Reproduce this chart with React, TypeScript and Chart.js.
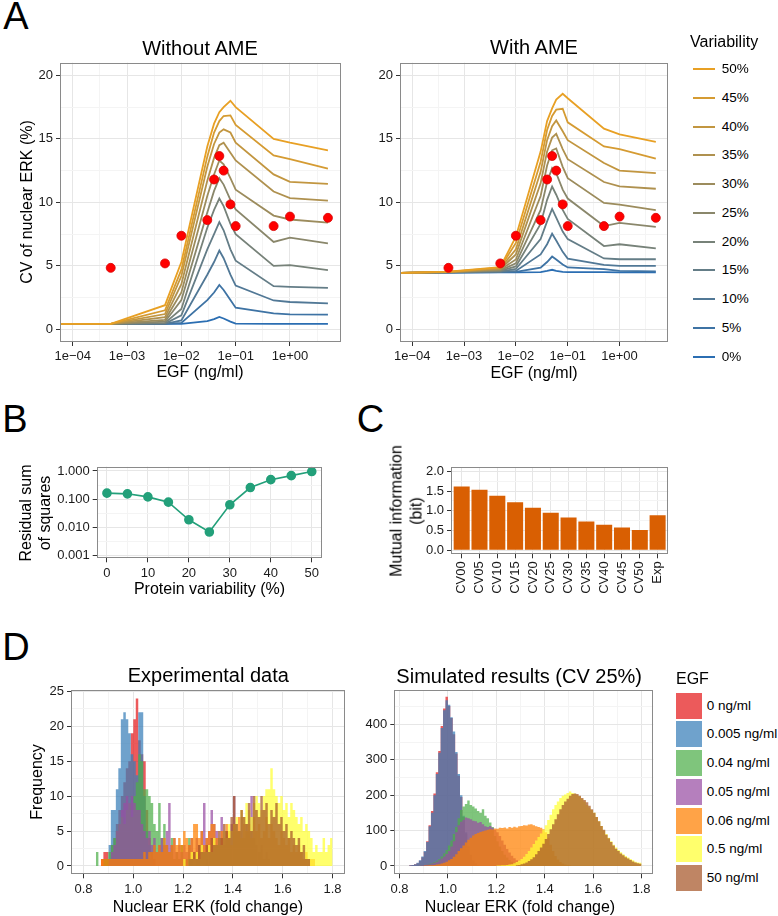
import React, { useEffect, useRef } from "react";
import { Chart, registerables } from "chart.js";

Chart.register(...registerables);

const FONT = '"Liberation Sans", Arial, Helvetica, sans-serif';

// ---------------- Panel A data ----------------
const egfDose = [6e-5, 5e-4, 5e-3, 1e-2, 0.03, 0.04, 0.05, 0.06, 0.08, 0.1, 0.5, 1, 5];
const variabilityLabels = ["0%", "5%", "10%", "15%", "20%", "25%", "30%", "35%", "40%", "45%", "50%"];

// Without AME
const cvNoAme00 = [0.42, 0.42, 0.42, 0.42, 0.65, 0.8, 0.97, 0.85, 0.6, 0.45, 0.42, 0.42, 0.42];
const cvNoAme05 = [0.42, 0.42, 0.42, 0.5, 2.3, 2.9, 3.5, 3.1, 2.3, 1.7, 1.25, 1.18, 1.15];
const cvNoAme10 = [0.42, 0.42, 0.43, 0.7, 4.3, 5.3, 6.2, 5.6, 4.3, 3.44, 2.27, 2.15, 2.04];
const cvNoAme15 = [0.42, 0.42, 0.45, 1.1, 6.3, 7.5, 8.45, 7.8, 6.3, 5.4, 3.4, 3.35, 3.26];
const cvNoAme20 = [0.42, 0.42, 0.5, 1.6, 8.0, 9.4, 10.3, 9.7, 8.3, 7.5, 5.0, 5.05, 4.66];
const cvNoAme25 = [0.42, 0.42, 0.6, 2.3, 9.2, 10.9, 11.9, 11.4, 10.2, 9.45, 6.88, 7.22, 6.77];
const cvNoAme30 = [0.42, 0.42, 0.75, 2.9, 10.5, 12.2, 13.3, 13.0, 11.9, 11.0, 8.96, 8.65, 8.4];
const cvNoAme35 = [0.42, 0.42, 0.95, 3.56, 11.7, 13.5, 14.5, 14.7, 13.9, 13.3, 10.85, 10.34, 10.13];
const cvNoAme40 = [0.42, 0.42, 1.2, 4.2, 12.8, 14.6, 15.5, 15.75, 15.5, 14.7, 12.2, 11.62, 11.46];
const cvNoAme45 = [0.42, 0.42, 1.5, 4.7, 13.6, 15.5, 16.4, 16.8, 16.85, 16.1, 13.7, 13.4, 12.65];
const cvNoAme50 = [0.42, 0.42, 1.9, 5.3, 14.4, 16.2, 17.1, 17.5, 18.0, 17.5, 15.0, 14.7, 14.1];

// With AME
const cvAme00 = [4.45, 4.47, 4.48, 4.48, 4.5, 4.6, 4.69, 4.6, 4.52, 4.5, 4.5, 4.48, 4.48];
const cvAme05 = [4.45, 4.47, 4.5, 4.52, 4.85, 5.3, 5.73, 5.5, 5.1, 4.87, 4.74, 4.6, 4.56];
const cvAme10 = [4.45, 4.48, 4.52, 4.6, 5.9, 6.7, 7.53, 7.0, 6.1, 5.57, 5.08, 5.0, 5.0];
const cvAme15 = [4.45, 4.48, 4.55, 4.75, 7.1, 8.5, 9.48, 8.8, 7.7, 7.1, 5.58, 5.52, 5.52];
const cvAme20 = [4.45, 4.49, 4.6, 4.95, 8.3, 10.2, 11.25, 10.6, 9.4, 8.7, 6.56, 6.7, 6.38];
const cvAme25 = [4.45, 4.5, 4.65, 5.2, 9.4, 11.6, 12.7, 12.3, 11.0, 10.3, 8.13, 8.39, 8.07];
const cvAme30 = [4.45, 4.5, 4.7, 5.5, 10.5, 12.9, 14.1, 14.25, 12.8, 11.9, 9.95, 9.82, 9.38];
const cvAme35 = [4.45, 4.51, 4.75, 5.9, 11.5, 14.0, 15.1, 15.4, 14.2, 13.4, 11.6, 11.25, 11.07];
const cvAme40 = [4.45, 4.52, 4.8, 6.3, 12.4, 14.9, 16.0, 16.45, 15.6, 14.9, 13.1, 12.5, 12.3];
const cvAme45 = [4.45, 4.53, 4.85, 6.8, 13.2, 15.7, 16.8, 17.3, 17.37, 16.3, 14.4, 14.2, 13.45];
const cvAme50 = [4.45, 4.55, 4.9, 7.3, 14.0, 16.4, 17.4, 18.1, 18.55, 18.2, 15.8, 15.35, 14.77];

const cvNoAmeSeries = [cvNoAme00, cvNoAme05, cvNoAme10, cvNoAme15, cvNoAme20, cvNoAme25, cvNoAme30, cvNoAme35, cvNoAme40, cvNoAme45, cvNoAme50];
const cvAmeSeries = [cvAme00, cvAme05, cvAme10, cvAme15, cvAme20, cvAme25, cvAme30, cvAme35, cvAme40, cvAme45, cvAme50];

const expDose = [5e-4, 5e-3, 1e-2, 0.03, 0.04, 0.05, 0.06, 0.08, 0.1, 0.5, 1, 5];
const expCV = [4.84, 5.19, 7.37, 8.6, 11.8, 13.65, 12.5, 9.84, 8.13, 8.13, 8.88, 8.78];

const egfTicks = [1e-4, 1e-3, 1e-2, 1e-1, 1];
const egfMinorTicks = [3.162e-4, 3.162e-3, 3.162e-2, 0.3162, 3.162];
const egfTickLabels = ["1e\u221204", "1e\u221203", "1e\u221202", "1e\u221201", "1e+00"];
const cvTicks = [0, 5, 10, 15, 20];
const cvMinorTicks = [2.5, 7.5, 12.5, 17.5];

// ---------------- Panel B data ----------------
const rssVariability = [0, 5, 10, 15, 20, 25, 30, 35, 40, 45, 50];
const rssValues = [0.163, 0.154, 0.12, 0.078, 0.0185, 0.0068, 0.063, 0.257, 0.49, 0.68, 0.95];
const rssXTicks = [0, 10, 20, 30, 40, 50];
const rssXMinor = [5, 15, 25, 35, 45];
const rssYTicks = [0.001, 0.01, 0.1, 1];
const rssYMinor = [0.003162, 0.03162, 0.3162];
const rssYTickLabels = ["0.001", "0.010", "0.100", "1.000"];

// ---------------- Panel C data ----------------
const miLabels = ["CV00", "CV05", "CV10", "CV15", "CV20", "CV25", "CV30", "CV35", "CV40", "CV45", "CV50", "Exp"];
const miValues = [1.615, 1.53, 1.38, 1.215, 1.075, 0.95, 0.83, 0.73, 0.65, 0.58, 0.515, 0.89];
const miYTicks = [0, 0.5, 1, 1.5, 2];
const miYMinor = [0.25, 0.75, 1.25, 1.75];

// ---------------- Panel D data ----------------
const BIN = 0.01;
const egfLevels = ["0 ng/ml", "0.005 ng/ml", "0.04 ng/ml", "0.05 ng/ml", "0.06 ng/ml", "0.5 ng/ml", "50 ng/ml"];
const egfRGB = [[228, 26, 28], [55, 126, 184], [77, 175, 74], [152, 78, 163], [255, 127, 0], [255, 255, 51], [166, 86, 40]];
const foldTicks = [0.8, 1.0, 1.2, 1.4, 1.6, 1.8];
const foldMinor = [0.9, 1.1, 1.3, 1.5, 1.7];
const expFreqTicks = [0, 5, 10, 15, 20, 25];
const expFreqMinor = [2.5, 7.5, 12.5, 17.5, 22.5];
const simFreqTicks = [0, 100, 200, 300, 400];
const simFreqMinor = [50, 150, 250, 350, 450];

// Experimental histograms (first bin start, counts per 0.01 bin)
const expStart0 = 0.87;
const expCounts0 = [1, 2, 2, 1, 3, 4, 6, 8, 10, 12, 14, 15, 19, 21, 24, 18, 16, 15, 8, 4, 2, 1];
const expStart005 = 0.9;
const expCounts005 = [3, 8, 8, 11, 14, 21, 22, 21, 19, 16, 15, 13, 22, 22, 10, 5, 3, 1];
const expStart04 = 0.85;
const expCounts04 = [2, 0, 0, 1, 1, 2, 3, 4, 5, 6, 7, 6, 8, 9, 7, 10, 12, 16, 15, 11, 11, 10, 9, 6, 5, 9, 4, 6, 3, 2, 4, 1, 2, 1, 3, 1, 1, 4, 1, 0, 1, 1, 0, 0, 1];
const expStart05 = 0.9;
const expCounts05 = [1, 2, 3, 5, 6, 8, 9, 10, 9, 10, 9, 8, 8, 6, 5, 4, 5, 3, 4, 2, 3, 4, 3, 5, 9, 3, 4, 2, 3, 2, 3, 2, 3, 4, 2, 4, 3, 5, 9, 4, 5, 8, 6, 5, 4, 7, 3, 5, 4, 6, 10, 6, 5, 7, 4, 6, 5, 10, 4, 3, 2, 3, 1, 2, 1];
const expStart06 = 0.87;
const expCounts06 = [1, 1, 1, 1, 1, 1, 1, 1, 1, 1, 1, 1, 1, 1, 1, 1, 1, 2, 1, 2, 2, 3, 2, 3, 2, 4, 3, 2, 3, 4, 3, 4, 3, 5, 4, 3, 4, 6, 6, 4, 5, 3, 4, 5, 6, 6, 4, 3, 5, 4, 6, 5, 3, 6, 5, 7, 4, 6, 5, 6, 4, 7, 5, 6, 4, 5, 7, 4, 6, 5, 4, 3, 5, 4, 3, 4, 2, 3, 2, 3, 2, 1, 2, 1, 1, 1];
const expStart5 = 1.2;
const expCounts5 = [1, 0, 1, 2, 1, 2, 1, 3, 2, 2, 3, 2, 4, 3, 4, 3, 5, 4, 6, 5, 6, 7, 5, 8, 7, 9, 8, 7, 9, 10, 9, 8, 10, 11, 11, 14, 11, 10, 9, 10, 8, 9, 7, 9, 8, 7, 6, 7, 5, 6, 5, 4, 2, 3, 2, 2, 4, 2, 3, 4];
const expStart50 = 1.22;
const expCounts50 = [1, 1, 2, 1, 3, 2, 2, 3, 2, 4, 3, 3, 5, 4, 6, 5, 4, 7, 10, 6, 5, 8, 7, 6, 9, 5, 10, 8, 7, 10, 8, 9, 6, 8, 7, 9, 6, 7, 5, 6, 4, 5, 4, 3, 4, 2, 3, 1, 1];

// Simulated histograms (CV 25%)
const simStart0 = 0.84;
const simCounts0 = [2, 3, 5, 8, 15, 25, 40, 70, 115, 155, 205, 265, 325, 395, 445, 478, 452, 418, 372, 318, 255, 195, 138, 92, 55, 30, 15, 7, 3];
const simStart005 = 0.84;
const simCounts005 = [2, 3, 5, 9, 16, 27, 42, 68, 112, 150, 200, 260, 320, 390, 440, 468, 455, 420, 380, 322, 260, 200, 142, 95, 57, 32, 16, 7, 3];
const simStart04 = 0.88;
const simCounts04 = [1, 2, 3, 4, 6, 8, 11, 15, 20, 27, 35, 45, 58, 72, 90, 110, 135, 158, 168, 175, 185, 172, 168, 162, 155, 150, 160, 142, 135, 123, 110, 85, 70, 55, 42, 32, 24, 17, 12, 8, 5, 3, 2, 1];
const simStart05 = 0.88;
const simCounts05 = [1, 2, 3, 4, 5, 7, 9, 12, 16, 21, 27, 34, 42, 55, 70, 95, 115, 125, 130, 137, 135, 132, 128, 126, 122, 124, 118, 112, 110, 113, 108, 102, 95, 85, 72, 60, 48, 38, 29, 22, 16, 11, 7, 5, 3, 2, 1];
const simStart06 = 0.9;
const simCounts06 = [1, 1, 2, 2, 3, 4, 5, 7, 9, 12, 16, 20, 26, 33, 42, 50, 58, 66, 74, 80, 86, 90, 93, 96, 98, 100, 102, 104, 103, 106, 105, 108, 107, 109, 106, 110, 108, 111, 109, 112, 113, 115, 114, 117, 118, 115, 112, 110, 108, 104, 95, 80, 60, 42, 28, 18, 11, 7, 4, 2, 1];
const simStart5 = 1.2;
const simCounts5 = [1, 1, 2, 2, 3, 4, 5, 8, 11, 15, 20, 26, 34, 42, 52, 62, 72, 82, 92, 102, 115, 130, 145, 160, 172, 182, 192, 198, 202, 206, 210, 206, 204, 200, 196, 190, 182, 172, 165, 158, 150, 138, 126, 113, 100, 90, 80, 70, 60, 52, 45, 39, 33, 28, 24, 20, 16, 12, 10, 9];
const simStart50 = 1.28;
const simCounts50 = [2, 3, 5, 7, 10, 14, 19, 25, 33, 42, 52, 63, 76, 90, 104, 118, 132, 146, 160, 172, 182, 190, 198, 203, 205, 203, 198, 192, 186, 180, 170, 160, 150, 138, 126, 113, 102, 88, 78, 68, 58, 49, 42, 35, 30, 25, 21, 17, 13, 10, 8, 6];

const expHistStarts = [expStart0, expStart005, expStart04, expStart05, expStart06, expStart5, expStart50];
const expHistCounts = [expCounts0, expCounts005, expCounts04, expCounts05, expCounts06, expCounts5, expCounts50];
const simHistStarts = [simStart0, simStart005, simStart04, simStart05, simStart06, simStart5, simStart50];
const simHistCounts = [simCounts0, simCounts005, simCounts04, simCounts05, simCounts06, simCounts5, simCounts50];

// ---------------- styling helpers ----------------
const MAJOR_GRID = "#E6E6E6";
const MINOR_GRID = "#F4F4F4";
const TICK_COLOR = "#333333";
const TICK_LABEL = "#1A1A1A";
const HIST_ALPHA = 0.72;

const lowColor = [43, 110, 178];
const highColor = [232, 160, 36];
function varColor(i: number) {
  const t = i / 10;
  const c = lowColor.map((v, k) => Math.round(v + (highColor[k] - v) * t));
  return `rgb(${c.join(",")})`;
}
function egfColor(i: number) {
  const c = egfRGB[i];
  return `rgba(${c[0]},${c[1]},${c[2]},${HIST_ALPHA})`;
}

type Tk = { value: number; minorG?: boolean };
function mkTicks(major: number[], minor: number[]): Tk[] {
  return [...major.map((v) => ({ value: v })), ...minor.map((v) => ({ value: v, minorG: true }))].sort(
    (a, b) => a.value - b.value
  );
}

function axis(o: {
  type?: string;
  min: number;
  max: number;
  major: number[];
  minor: number[];
  labels: string[];
  rotate?: boolean;
  isX: boolean;
  size: number;
}) {
  return {
    type: o.type || "linear",
    min: o.min,
    max: o.max,
    bounds: "data",
    offset: false,
    beginAtZero: false,
    afterBuildTicks: (s: any) => {
      s.ticks = mkTicks(o.major, o.minor);
    },
    afterFit: (s: any) => {
      if (o.isX) s.height = o.size;
      else s.width = o.size;
    },
    grid: {
      offset: false,
      color: (c: any) => (c.tick && c.tick.minorG ? MINOR_GRID : MAJOR_GRID),
      tickColor: (c: any) => (c.tick && c.tick.minorG ? "rgba(0,0,0,0)" : TICK_COLOR),
      tickLength: 4,
      lineWidth: 1,
      drawTicks: true,
    },
    border: { display: false },
    ticks: {
      autoSkip: false,
      maxRotation: o.rotate ? 90 : 0,
      minRotation: o.rotate ? 90 : 0,
      padding: 3,
      color: TICK_LABEL,
      font: { family: FONT, size: 13 },
      callback: (v: number, i: number, ticks: any[]) => {
        if (ticks[i] && ticks[i].minorG) return "";
        const k = o.major.findIndex((m) => Math.abs(m - v) <= Math.abs(m) * 1e-6 + 1e-9);
        return k >= 0 ? o.labels[k] : "";
      },
    },
  };
}

const framePlugin = {
  id: "frame",
  afterDraw(chart: any) {
    const { ctx, chartArea: a } = chart;
    ctx.save();
    ctx.strokeStyle = "#8A8A8A";
    ctx.lineWidth = 1;
    const l = Math.round(a.left) + 0.5;
    const t = Math.round(a.top) + 0.5;
    const r = Math.round(a.right) - 0.5;
    const b = Math.round(a.bottom) - 0.5;
    ctx.strokeRect(l, t, r - l, b - t);
    ctx.restore();
  },
};

type Rect = { x: number; y: number; w: number; h: number };
type Area = { l: number; t: number; r: number; b: number };

function PanelChart({ rect, area, make }: { rect: Rect; area: Area; make: (yw: number, xh: number) => any }) {
  const ref = useRef<HTMLCanvasElement>(null);
  useEffect(() => {
    const yw = area.l - rect.x;
    const xh = rect.y + rect.h - area.b;
    const cfg = make(yw, xh);
    cfg.options = {
      ...cfg.options,
      responsive: false,
      maintainAspectRatio: false,
      animation: false,
      devicePixelRatio: 1,
      events: [],
      layout: { padding: { left: 0, bottom: 0, top: area.t - rect.y, right: rect.x + rect.w - area.r } },
      plugins: { legend: { display: false }, tooltip: { enabled: false }, title: { display: false } },
    };
    cfg.plugins = [framePlugin];
    const chart = new Chart(ref.current as HTMLCanvasElement, cfg);
    return () => chart.destroy();
  }, []);
  return (
    <canvas
      ref={ref}
      width={rect.w}
      height={rect.h}
      style={{ position: "absolute", left: rect.x, top: rect.y, width: rect.w, height: rect.h }}
    />
  );
}

// ---------------- chart builders ----------------
function makeA(series: number[][]) {
  return (yw: number, xh: number) => ({
    type: "line",
    data: {
      datasets: [
        {
          label: "Experiment",
          data: expDose.map((x, i) => ({ x, y: expCV[i] })),
          showLine: false,
          pointRadius: 4.5,
          pointBackgroundColor: "#FF0000",
          pointBorderColor: "#D80000",
          pointBorderWidth: 0.8,
          order: 0,
        },
        ...series.map((vals, i) => ({
          label: variabilityLabels[i],
          data: egfDose.map((x, j) => ({ x, y: vals[j] })),
          borderColor: varColor(i),
          borderWidth: 1.8,
          pointRadius: 0,
          fill: false,
          tension: 0,
          order: 11 - i,
        })),
      ],
    },
    options: {
      scales: {
        x: axis({
          type: "logarithmic",
          min: Math.pow(10, -4.235),
          max: Math.pow(10, 0.934),
          major: egfTicks,
          minor: egfMinorTicks,
          labels: egfTickLabels,
          isX: true,
          size: xh,
        }),
        y: axis({ min: -1, max: 21, major: cvTicks, minor: cvMinorTicks, labels: cvTicks.map(String), isX: false, size: yw }),
      },
    },
  });
}

const makeB = (yw: number, xh: number) => ({
  type: "line",
  data: {
    datasets: [
      {
        label: "RSS",
        data: rssVariability.map((x, i) => ({ x, y: rssValues[i] })),
        borderColor: "#23A07A",
        backgroundColor: "#23A07A",
        borderWidth: 1.6,
        pointRadius: 4,
        pointBackgroundColor: "#23A07A",
        pointBorderColor: "#23A07A",
        tension: 0,
      },
    ],
  },
  options: {
    scales: {
      x: axis({ min: -2.5, max: 52.5, major: rssXTicks, minor: rssXMinor, labels: rssXTicks.map(String), isX: true, size: xh }),
      y: axis({
        type: "logarithmic",
        min: Math.pow(10, -3.1),
        max: Math.pow(10, 0.15),
        major: rssYTicks,
        minor: rssYMinor,
        labels: rssYTickLabels,
        isX: false,
        size: yw,
      }),
    },
  },
});

const makeC = (yw: number, xh: number) => ({
  type: "bar",
  data: {
    datasets: [
      {
        label: "MI",
        data: miValues.map((v, i) => ({ x: i, y: v })),
        backgroundColor: "#D95F02",
        borderWidth: 0,
        categoryPercentage: 0.9,
        barPercentage: 1,
      },
    ],
  },
  options: {
    scales: {
      x: axis({
        min: -0.6,
        max: 11.6,
        major: miLabels.map((_, i) => i),
        minor: [],
        labels: miLabels,
        rotate: true,
        isX: true,
        size: xh,
      }),
      y: axis({ min: -0.1, max: 2.1, major: miYTicks, minor: miYMinor, labels: miYTicks.map((v) => v.toFixed(1)), isX: false, size: yw }),
    },
  },
});

function histPoints(start: number, counts: number[]) {
  const pts = counts.map((c, i) => ({ x: start + i * BIN, y: c }));
  pts.push({ x: start + counts.length * BIN, y: 0 });
  return pts;
}

function makeD(starts: number[], counts: number[][], xmin: number, xmax: number, ymin: number, ymax: number, yt: number[], ym: number[]) {
  return (yw: number, xh: number) => ({
    type: "line",
    data: {
      datasets: counts.map((cs, i) => ({
        label: egfLevels[i],
        data: histPoints(starts[i], cs),
        stepped: true,
        fill: "origin",
        backgroundColor: egfColor(i),
        borderColor: "rgba(0,0,0,0)",
        borderWidth: 0,
        pointRadius: 0,
        order: 7 - i,
      })),
    },
    options: {
      scales: {
        x: axis({ min: xmin, max: xmax, major: foldTicks, minor: foldMinor, labels: foldTicks.map((v) => v.toFixed(1)), isX: true, size: xh }),
        y: axis({ min: ymin, max: ymax, major: yt, minor: ym, labels: yt.map(String), isX: false, size: yw }),
      },
    },
  });
}

const makeDExp = makeD(expHistStarts, expHistCounts, 0.75, 1.85, -1.2, 25.2, expFreqTicks, expFreqMinor);
const makeDSim = makeD(simHistStarts, simHistCounts, 0.7786, 1.8486, -23.5, 497, simFreqTicks, simFreqMinor);

// ---------------- text helper ----------------
function Txt({
  x,
  y,
  size,
  children,
  rot = false,
  align = "center",
  lh,
}: {
  x: number;
  y: number;
  size: number;
  children: any;
  rot?: boolean;
  align?: string;
  lh?: number;
}) {
  const tx = align === "left" ? "0" : "-50%";
  return (
    <div
      style={{
        position: "absolute",
        left: x,
        top: y,
        transform: `translate(${tx},-50%)${rot ? " rotate(-90deg)" : ""}`,
        fontFamily: FONT,
        fontSize: size,
        lineHeight: lh ? `${lh}px` : 1.15,
        whiteSpace: "nowrap",
        textAlign: "center",
        color: "#000",
      }}
    >
      {children}
    </div>
  );
}

export default function App() {
  return (
    <div style={{ position: "absolute", left: 0, top: 0, width: 778, height: 916, background: "#fff", overflow: "hidden" }}>
      <PanelChart rect={{ x: 2, y: 48, w: 352, h: 320 }} area={{ l: 60, t: 62.7, r: 340.7, b: 342 }} make={makeA(cvNoAmeSeries)} />
      <PanelChart rect={{ x: 362, y: 48, w: 318, h: 320 }} area={{ l: 400, t: 62.7, r: 668, b: 342 }} make={makeA(cvAmeSeries)} />
      <PanelChart rect={{ x: 50, y: 452, w: 285, h: 130 }} area={{ l: 96.7, t: 466.7, r: 322, b: 558.3 }} make={makeB} />
      <PanelChart rect={{ x: 415, y: 452, w: 266, h: 150 }} area={{ l: 451, t: 467.3, r: 668.3, b: 554.3 }} make={makeC} />
      <PanelChart rect={{ x: 30, y: 675, w: 327, h: 241 }} area={{ l: 71, t: 690, r: 345, b: 874.3 }} make={makeDExp} />
      <PanelChart rect={{ x: 352, y: 675, w: 313, h: 241 }} area={{ l: 394.3, t: 690, r: 653.3, b: 874.3 }} make={makeDSim} />

      {/* panel letters */}
      <Txt x={16} y={17} size={38}>A</Txt>
      <Txt x={15} y={419.5} size={38}>B</Txt>
      <Txt x={370.5} y={419.5} size={38}>C</Txt>
      <Txt x={16} y={648} size={38}>D</Txt>

      {/* panel A */}
      <Txt x={200} y={47.5} size={20}>Without AME</Txt>
      <Txt x={534} y={46.5} size={20}>With AME</Txt>
      <Txt x={27} y={202} size={16} rot>CV of nuclear ERK (%)</Txt>
      <Txt x={200} y={372} size={16}>EGF (ng/ml)</Txt>
      <Txt x={534} y={372.5} size={16}>EGF (ng/ml)</Txt>
      <Txt x={690} y={41.7} size={16} align="left">Variability</Txt>
      {variabilityLabels.map((lab, i) => {
        const row = 10 - i;
        const yc = 69.3 + row * 28.73;
        return (
          <React.Fragment key={lab}>
            <div style={{ position: "absolute", left: 692.7, top: yc - 1, width: 22.3, height: 2, background: varColor(i) }} />
            <Txt x={721.7} y={yc} size={13.5} align="left">{lab}</Txt>
          </React.Fragment>
        );
      })}

      {/* panel B */}
      <Txt x={35} y={512.5} size={16} rot lh={18.5}>
        Residual sum
        <br />
        of squares
      </Txt>
      <Txt x={209.5} y={589} size={16}>Protein variability (%)</Txt>

      {/* panel C */}
      <Txt x={405.5} y={511} size={16} rot lh={19.5}>
        Mutual information
        <br />
        (bit)
      </Txt>

      {/* panel D */}
      <Txt x={208.3} y={674.5} size={20}>Experimental data</Txt>
      <Txt x={519.2} y={675.5} size={20}>Simulated results (CV 25%)</Txt>
      <Txt x={36.5} y={782} size={16} rot>Frequency</Txt>
      <Txt x={208} y={906.5} size={16}>Nuclear ERK (fold change)</Txt>
      <Txt x={520} y={906.5} size={16}>Nuclear ERK (fold change)</Txt>
      <Txt x={676} y={679} size={16} align="left">EGF</Txt>
      {egfLevels.map((lab, i) => {
        const top = 692.7 + i * 28.7;
        return (
          <React.Fragment key={lab}>
            <div style={{ position: "absolute", left: 676, top, width: 26.3, height: 26, background: egfColor(i) }} />
            <Txt x={706.7} y={top + 13} size={13.5} align="left">{lab}</Txt>
          </React.Fragment>
        );
      })}
    </div>
  );
}
